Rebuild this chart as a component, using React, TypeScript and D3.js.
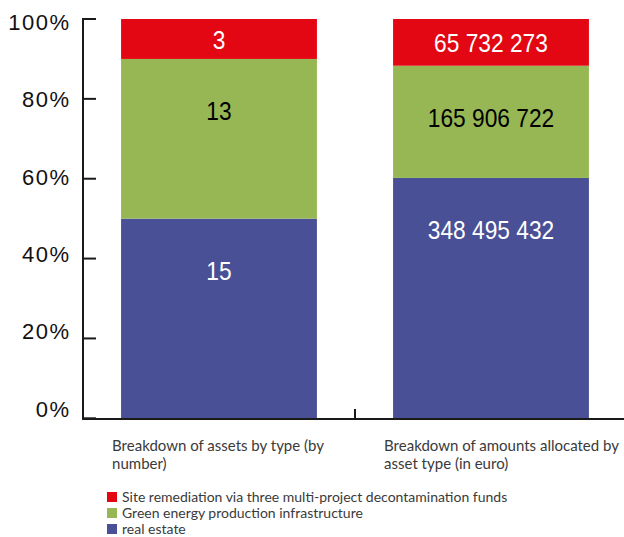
import React from "react";
import * as d3 from "d3";

const categories = ["assets", "amounts"];
const categoryLines = [
  ["Breakdown of assets by type (by", "number)"],
  ["Breakdown of amounts allocated by", "asset type (in euro)"],
];
const seriesNames = [
  "Site remediation via three multi-project decontamination funds",
  "Green energy production infrastructure",
  "real estate",
];
// printed values (bottom to top: real estate, green energy, remediation)
const realEstate = [15, 348495432];
const greenEnergy = [13, 165906722];
const siteRemediation = [3, 65732273];
// drawn shares (% of bar height)
const realEstateShare = [50, 60.2];
const greenEnergyShare = [40, 28.1];
const siteRemediationShare = [10, 11.7];
const yTicks = [0, 20, 40, 60, 80, 100];

const colors = { red: "#E30613", green: "#96B753", blue: "#4A5096" };

const W = 624;
const H = 537;

export default function App() {
  const y = d3.scaleLinear().domain([0, 100]).range([418.3, 19]);
  const yLabel = d3.scaleLinear().domain([0, 100]).range([409, 22.5]);
  const x = d3
    .scaleBand<string>()
    .domain(categories)
    .range([83, 627])
    .paddingInner(0.28)
    .paddingOuter(0.14);

  const fmt = (v: number) => d3.format(",")(v).replace(/,/g, " ");

  const seriesDefs = [
    { key: "re", vals: realEstate, color: colors.blue, text: "#fff" },
    { key: "ge", vals: greenEnergy, color: colors.green, text: "#000" },
    { key: "sr", vals: siteRemediation, color: colors.red, text: "#fff" },
  ];

  const stackData = categories.map((c, i) => ({
    cat: c,
    re: realEstateShare[i],
    ge: greenEnergyShare[i],
    sr: siteRemediationShare[i],
  }));
  const stacked = d3.stack<any>().keys(["re", "ge", "sr"])(stackData);

  const bw = x.bandwidth();
  const midTick = ((x(categories[0]) as number) + bw + (x(categories[1]) as number)) / 2;

  const legendColors = [colors.red, colors.green, colors.blue];

  return (
    <svg
      width={W}
      height={H}
      style={{ position: "absolute", left: 0, top: 0, background: "#fff" }}
    >
      {stacked.map((layer, li) => {
        const def = seriesDefs[li];
        return (
          <g key={def.key}>
            {layer.map((d, i) => {
              const x0 = x(categories[i]) as number;
              const yTop = y(d[1]);
              const yBot = y(d[0]);
              const h = yBot - yTop;
              const ly = yTop + Math.min(h / 2, 51) + 1;
              const cx = x0 + bw / 2;
              return (
                <g key={i}>
                  <rect x={x0} y={yTop} width={bw} height={h} fill={def.color} />
                  <text
                    transform={`translate(${cx},${ly}) scale(0.875,1)`}
                    textAnchor="middle"
                    dominantBaseline="central"
                    fontFamily="'Liberation Sans', Arial, sans-serif"
                    fontSize={26}
                    fill={def.text}
                  >
                    {fmt(def.vals[i])}
                  </text>
                </g>
              );
            })}
          </g>
        );
      })}

      {/* y axis */}
      <line x1={83} x2={83} y1={y(100) - 1} y2={420} stroke="#1a1a1a" strokeWidth={2} />
      {yTicks.map((t) => (
        <g key={t}>
          <line x1={83} x2={96} y1={y(t)} y2={y(t)} stroke="#1a1a1a" strokeWidth={2} />
          <text
            x={70.5}
            y={yLabel(t)}
            textAnchor="end"
            dominantBaseline="central"
            fontFamily="'Liberation Sans', Arial, sans-serif"
            fontSize={22}
            letterSpacing={1.5}
            fill="#111"
          >
            {t}%
          </text>
        </g>
      ))}

      {/* x axis */}
      <line x1={82} x2={W} y1={419} y2={419} stroke="#1a1a1a" strokeWidth={2} />
      <line x1={midTick} x2={midTick} y1={409} y2={419} stroke="#1a1a1a" strokeWidth={2} />

      {categories.map((c, i) => (
        <text
          key={c}
          x={(x(c) as number) - 9}
          y={451}
          fontFamily="Lato, 'Open Sans', sans-serif"
          fontSize={15}
          fill="#3a3a3a"
        >
          {categoryLines[i].map((line, li) => (
            <tspan key={li} x={(x(c) as number) - 9} dy={li === 0 ? 0 : 18}>
              {line}
            </tspan>
          ))}
        </text>
      ))}

      {/* legend */}
      {seriesNames.map((name, i) => (
        <g key={name} transform={`translate(107, ${492 + i * 16})`}>
          <rect x={0} y={0} width={10} height={10} fill={legendColors[i]} />
          <text
            x={15}
            y={10}
            fontFamily="Lato, 'Open Sans', sans-serif"
            fontSize={14}
            fill="#3a3a3a"
          >
            {name}
          </text>
        </g>
      ))}
    </svg>
  );
}
